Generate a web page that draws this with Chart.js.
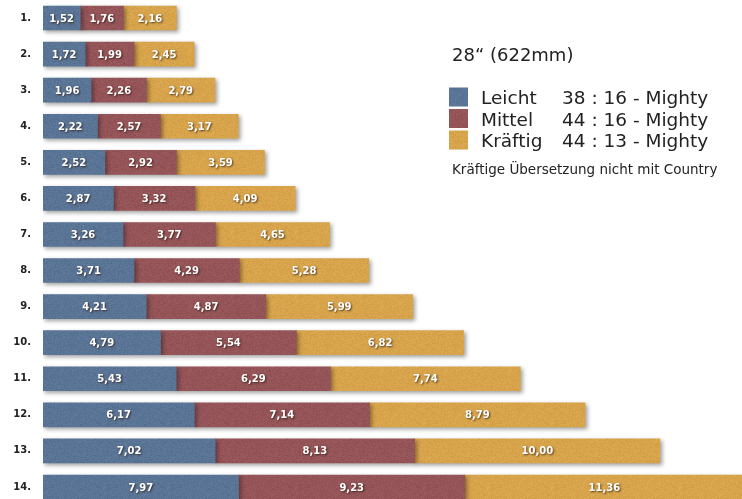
<!DOCTYPE html>
<html>
<head>
<meta charset="utf-8">
<script src="https://cdn.jsdelivr.net/npm/chart.js@4.4.0/dist/chart.umd.min.js"></script>
<style>
	html, body { margin: 0; padding: 0; background: #fff; overflow: hidden; }
	#wrap { position: relative; width: 742px; height: 499px; overflow: hidden; }
	canvas { position: absolute; left: 0; top: 0; }
</style>
</head>
<body>
<div id="wrap"><canvas id="chart" width="750" height="505"></canvas></div>
<script>
	// Gänge 1-14, Entfaltung in Metern je Kurbelumdrehung
	const gears = ['1.', '2.', '3.', '4.', '5.', '6.', '7.', '8.', '9.', '10.', '11.', '12.', '13.', '14.'];
	const leicht = [1.52, 1.72, 1.96, 2.22, 2.52, 2.87, 3.26, 3.71, 4.21, 4.79, 5.43, 6.17, 7.02, 7.97];
	const mittel = [1.76, 1.99, 2.26, 2.57, 2.92, 3.32, 3.77, 4.29, 4.87, 5.54, 6.29, 7.14, 8.13, 9.23];
	const kraeftig = [2.16, 2.45, 2.79, 3.17, 3.59, 4.09, 4.65, 5.28, 5.99, 6.82, 7.74, 8.79, 10.00, 11.36];

	const seriesNames = ['Leicht', 'Mittel', 'Kräftig'];
	const ratios = ['38 : 16 - Mighty', '44 : 16 - Mighty', '44 : 13 - Mighty'];
	const seriesColors = [[90, 116, 149], [148, 84, 88], [215, 164, 76]];

	const headline = '28\u201C (622mm)';
	const note = 'Kräftige Übersetzung nicht mit Country';

	const FONT = '"DejaVu Sans", Verdana, sans-serif';

	// grainy paper-like fill, deterministic hash so every render looks the same
	function grain(rgb){
		const size = 64;
		const c = document.createElement('canvas');
		c.width = size; c.height = size;
		const g = c.getContext('2d');
		const img = g.createImageData(size, size);
		for (let y = 0; y < size; y++){
			for (let x = 0; x < size; x++){
				const h = Math.sin(x * 12.9898 + y * 78.233) * 43758.5453;
				const n = (h - Math.floor(h) - 0.5) * 14;
				const i = (y * size + x) * 4;
				img.data[i] = rgb[0] + n;
				img.data[i + 1] = rgb[1] + n;
				img.data[i + 2] = rgb[2] + n;
				img.data[i + 3] = 255;
			}
		}
		g.putImageData(img, 0, 0);
		return c;
	}

	const ctx = document.getElementById('chart').getContext('2d');
	const fills = seriesColors.map((rgb) => ctx.createPattern(grain(rgb), 'repeat'));

	const barLook = {
		id: 'barLook',
		beforeDatasetsDraw(chart){
			const c = chart.ctx;
			c.save();
			c.shadowColor = 'rgba(0,0,0,0.38)';
			c.shadowBlur = 4;
			c.shadowOffsetX = 2;
			c.shadowOffsetY = 2;
		},
		afterDatasetsDraw(chart){
			const c = chart.ctx;
			c.restore();

			// values in the middle of each segment
			c.save();
			c.font = 'bold 10px ' + FONT;
			c.textAlign = 'center';
			c.textBaseline = 'middle';
			c.fillStyle = '#fff';
			c.shadowColor = 'rgba(40,20,10,0.75)';
			c.shadowBlur = 2;
			c.shadowOffsetX = 1;
			c.shadowOffsetY = 1;
			chart.data.datasets.forEach((ds, di) => {
				chart.getDatasetMeta(di).data.forEach((bar, i) => {
					const txt = ds.data[i].toFixed(2).replace('.', ',');
					c.fillText(txt, (bar.x + bar.base) / 2, bar.y + 1);
				});
			});
			c.restore();
		},
		afterDraw(chart){
			const c = chart.ctx;
			c.save();
			c.fillStyle = '#222';
			c.textBaseline = 'alphabetic';
			c.textAlign = 'left';

			c.font = '18px ' + FONT;
			c.fillText(headline, 452, 61);

			chart.data.datasets.forEach((ds, i) => {
				const y = 87.5 + i * 21.5;
				c.fillStyle = ds.backgroundColor;
				c.fillRect(449, y, 19, 19);
				c.fillStyle = '#222';
				c.font = '18.5px ' + FONT;
				c.fillText(ds.label, 481, y + 16.5);
				c.fillText(ratios[i], 562, y + 16.5);
			});

			c.font = '13.5px ' + FONT;
			c.fillText(note, 452, 174);
			c.restore();
		}
	};

	new Chart(ctx, {
		type: 'bar',
		data: {
			labels: gears,
			datasets: [leicht, mittel, kraeftig].map((values, i) => ({
				label: seriesNames[i],
				data: values,
				backgroundColor: fills[i],
				borderWidth: 0,
				barThickness: 24
			}))
		},
		options: {
			indexAxis: 'y',
			responsive: false,
			animation: false,
			layout: { padding: 0 },
			plugins: {
				legend: { display: false },
				tooltip: { enabled: false }
			},
			scales: {
				x: {
					stacked: true,
					display: false,
					min: 0,
					max: 28.82
				},
				y: {
					stacked: true,
					grid: { display: false, drawTicks: false },
					border: { display: false },
					ticks: {
						color: '#222',
						padding: 12,
						font: { family: FONT, size: 10, weight: 'bold' }
					},
					afterFit: (scale) => {
						// labels sit 12px left of the bars; no extra room above/below
						scale.width = 43;
						scale.paddingTop = 0;
						scale.paddingBottom = 0;
					}
				}
			}
		},
		plugins: [barLook]
	});
</script>
</body>
</html>
